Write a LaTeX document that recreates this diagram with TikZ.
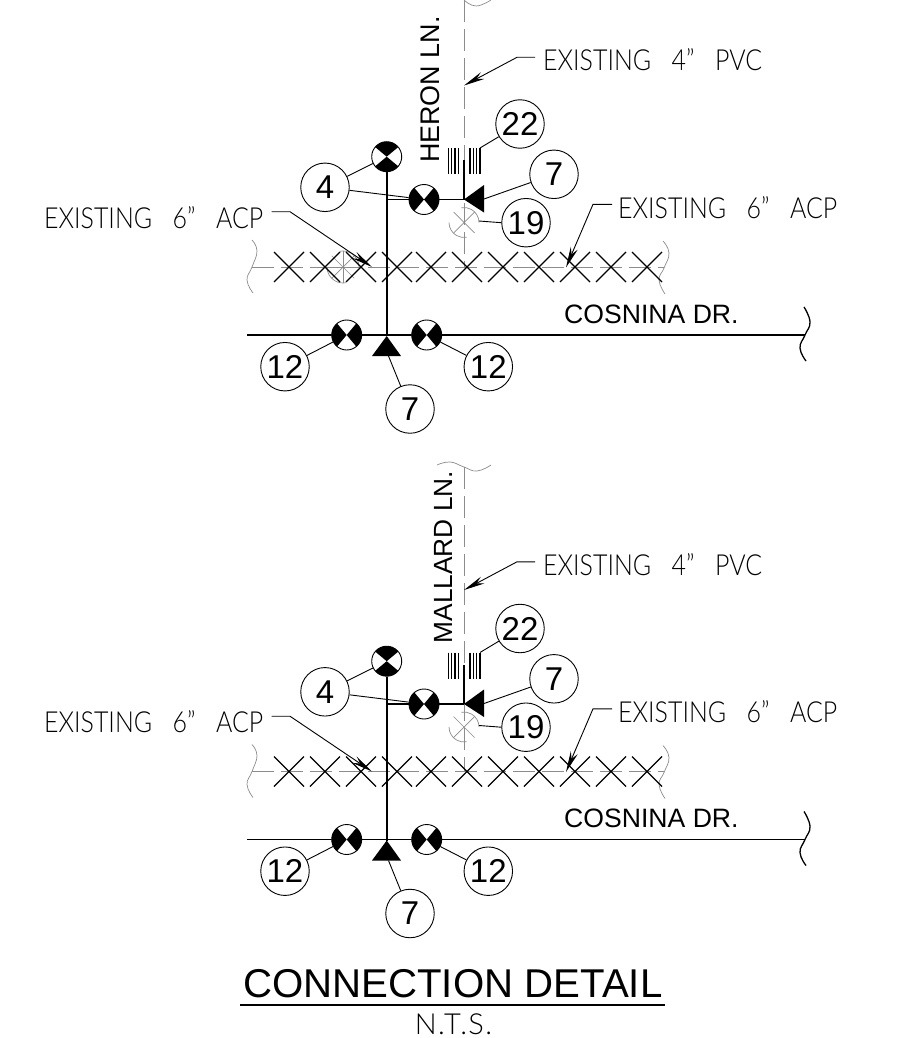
\documentclass[tikz,border=0pt]{standalone}
\usepackage{fontspec}
\setmainfont{Liberation Sans}
\newfontfamily\thinfont{Lato Light}[FakeStretch=0.86]
\newfontfamily\ntsfont{Lato Light}[LetterSpace=5]
\usetikzlibrary{arrows.meta}
\newcommand{\wgap}{\hspace*{20.5pt}}
\tikzset{
  x=1pt,y=-1pt,
  ballon/.style={circle,draw=black,line width=0.9pt,fill=white,minimum size=48.5pt,inner sep=0pt,font=\fontsize{33}{33}\selectfont},
  valvebody/.style={circle,draw=black,line width=0.9pt,minimum size=30pt,inner sep=0pt},
  mainline/.style={draw=black,line width=1.7pt},
  thinline/.style={draw=black,line width=0.9pt},
  grayline/.style={draw=black!45,line width=0.7pt},
  graydash/.style={grayline,dash pattern=on 22pt off 7pt},
  leadarrow/.style={thinline,-{Stealth[length=21pt,width=7.5pt]}},
  crossline/.style={draw=black,line width=1.3pt},
  thinlabel/.style={anchor=base west,inner sep=0pt,font=\thinfont\fontsize{29}{29}\selectfont},
  ntslabel/.style={anchor=base,inner sep=0pt,font=\ntsfont\fontsize{29}{29}\selectfont},
  roadlabel/.style={anchor=base west,inner sep=0pt,font=\fontsize{26.6}{28}\selectfont},
  wall/.style={draw=black,line width=1.3pt}
}
\newcommand{\valvesym}[4]{% name x y rotation
  \begin{scope}[shift={(#2,#3)},rotate=#4]
    \fill[white] (0,0) circle (15pt);
    \clip (0,0) circle (15pt);
    \fill[black] (0,0) -- (-24,-20) -- (24,-20) -- cycle;
    \fill[black] (0,0) -- (-24,20) -- (24,20) -- cycle;
  \end{scope}
  \node[valvebody] (#1) at (#2,#3) {};
}
\newcommand{\cross}[1]{\draw[crossline] (#1-15,252) -- (#1+15,282) (#1+15,252) -- (#1-15,282);}
\newcommand{\grayvalve}[4]{% name x y r
  \coordinate (#1) at (#2,#3);
  \draw[grayline] (#2+#4,#3) arc[start angle=0,end angle=-100,radius=#4];
  \draw[grayline] (#2-#4,#3) arc[start angle=180,end angle=80,radius=#4];
  \draw[grayline] (#2-.7*#4,#3-.7*#4) -- (#2+.7*#4,#3+.7*#4) (#2+.7*#4,#3-.7*#4) -- (#2-.7*#4,#3+.7*#4);
}
\newcommand{\connblock}[7]{% prefix, shift, street, baseline x, dash start, street start y, extra
\begin{scope}[yshift=#2,name prefix=#1-]
  % gray pipes
  \coordinate (vtop) at (464,#5);
  \coordinate (cross) at (464,267);
  \coordinate (hL) at (252,267);
  \coordinate (hR) at (664,267);
  \draw[graydash] (vtop) -- (cross);
  \draw[graydash] (hL) -- (hR);
  \draw[grayline] plot[smooth,tension=.8] coordinates {(252,240) (257,251) (252,267) (247,280) (253,293)};
  \draw[grayline] plot[smooth,tension=.8] coordinates {(663,241) (669,253) (664,268) (659,280) (665,294)};
  #7
  \grayvalve{gv}{464}{222.5}{15}
  % crosses
  \cross{289}\cross{325}\cross{361}\cross{397}\cross{431}\cross{467}\cross{503}\cross{539}\cross{575}\cross{611}\cross{647}
  % street line and break
  \coordinate (rL) at (247,335);
  \coordinate (rR) at (805,335);
  \coordinate (jun) at (386.7,199.5);
  \coordinate (apex) at (386.7,336);
  \coordinate (stub) at (464,160);
  \coordinate (tee) at (464,199.5);
  \draw[mainline] (rL) -- (rR);
  \draw[wall] plot[smooth,tension=.8] coordinates {(804,307) (810,322) (805,335) (800,348) (806,361)};
  % valves
  \valvesym{v1}{386.7}{156.7}{0}
  \valvesym{v2}{424}{199.5}{90}
  \valvesym{v3}{346.7}{335}{90}
  \valvesym{v4}{426.7}{335}{90}
  \draw[mainline] (v1.south) -- (apex);
  \draw[thinline,line width=1.3pt] (jun) -- (v2.west);
  \draw[mainline] (v2.east) -- (tee);
  \draw[mainline] (tee) -- (stub);
  % fittings
  \coordinate (t1) at (484,199);
  \coordinate (t2) at (388.5,356);
  \fill[black] (tee) -- (484,185) -- (484,212.5) -- cycle;
  \fill[black] (apex) -- (401,356) -- (372,356) -- cycle;
  % hatch 22
  \foreach \hx in {448.3,451.7,455,458.3,470,473.3,476.7,480} \draw[black,line width=1.1pt] (\hx,148) -- (\hx,174);
  \coordinate (h22) at (480,148);
  % balloons
  \node[ballon] (b4) at (325,187.3) {4};
  \node[ballon] (b22) at (520,124) {22};
  \node[ballon] (b7a) at (554,174.3) {7};
  \node[ballon] (b19) at (526,222.7) {19};
  \node[ballon] (b12a) at (285,366.7) {12};
  \node[ballon] (b12b) at (488.3,366.7) {12};
  \node[ballon] (b7b) at (410,409) {7};
  \draw[thinline] (b4) -- (v1);
  \draw[thinline] (b4) -- (v2);
  \draw[thinline] (b22) -- (h22);
  \draw[thinline] (b7a) -- (t1);
  \draw[thinline] (b19.west) -- (479,221) ;
  \draw[thinline] (b12a) -- (v3);
  \draw[thinline] (b12b) -- (v4);
  \draw[thinline] (b7b) -- (t2);
  % labels
  \node[thinlabel] (pvc) at (543,71) {EXISTING\wgap 4”\wgap PVC};
  \node[thinlabel] (acpL) at (44,228) {EXISTING\wgap 6”\wgap ACP};
  \node[thinlabel] (acpR) at (618,218) {EXISTING\wgap 6”\wgap ACP};
  \node[roadlabel] (road) at (564,323) {COSNINA DR.};
  \node[anchor=base west,inner sep=0pt,rotate=90] (street) at (#4,#6) {#3};
  \coordinate (pvcE) at (517,57.3);
  \coordinate (pvcT) at (464,85.5);
  \draw[leadarrow] (535,57.3) -- (pvcE) -- (pvcT);
  \coordinate (alE) at (290,211.7);
  \coordinate (alT) at (372,267);
  \draw[leadarrow] (271.7,211.7) -- (alE) -- (alT);
  \coordinate (arE) at (593,204.3);
  \coordinate (arT) at (566,267.5);
  \draw[leadarrow] (612,204.3) -- (arE) -- (arT);
\end{scope}
}
\begin{document}
\begin{tikzpicture}
\useasboundingbox (0,0) rectangle (900,1038);
\fill[white] (0,0) rectangle (900,1038);
\connblock{a}{0pt}{\fontsize{26.9}{28}\selectfont HERON LN.}{439.3}{0}{163}{\grayvalve{gx}{343}{267}{16}\draw[grayline] (343,251) -- (343,283) (327,267) -- (359,267);}
\connblock{b}{-504.5pt}{\fontsize{26.3}{28}\selectfont MALLARD LN.}{452.7}{-37.5}{139}{}
\draw[grayline] plot[smooth,tension=.8] coordinates {(464,0) (476,6) (491,0)};
\draw[grayline] plot[smooth,tension=.8] coordinates {(437,465) (450,462) (464,467) (477,471) (491,465)};
\node[anchor=base west,inner sep=0pt,font=\fontsize{40.2}{40}\selectfont] (title) at (243,997) {CONNECTION DETAIL};
\draw[black,line width=1.2pt] (title.base west) ++(-3,8) -- ++(425,0);
\node[ntslabel] (nts) at (453.5,1034.5) {N.T.S.};
\end{tikzpicture}
\end{document}
